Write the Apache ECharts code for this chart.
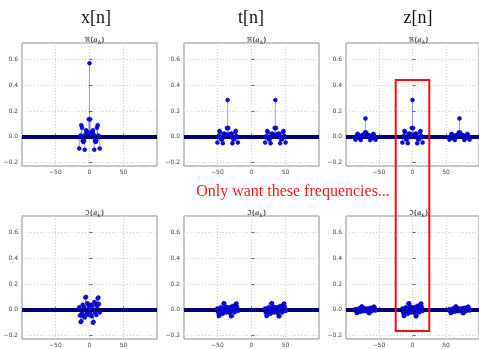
<!DOCTYPE html>
<html><head><meta charset="utf-8">
<script src="https://cdn.jsdelivr.net/npm/echarts@6/dist/echarts.min.js"></script>
<style>html,body{margin:0;padding:0;background:#fff}#c{width:479px;height:349px}</style>
</head><body><div id="c"></div><script>
// harmonic offsets within one cluster
const kOffsets = [-15,-14,-13,-12,-11,-10,-9,-8,-7,-6,-5,-4,-3,-2,-1,0,1,2,3,4,5,6,7,8,9,10,11,12,13,14,15];
// x[n] coefficients (cluster at k=0)
const xRe = [-0.09,0.0,0.01,0.09,0.07,-0.03,-0.04,-0.03,-0.1,0.02,0.05,0.04,0.02,0.03,0.135,0.57,0.135,0.03,0.02,0.04,0.05,0.02,-0.1,-0.03,-0.04,-0.03,0.07,0.09,0.01,0.0,-0.09];
const xIm = [0.02,-0.045,-0.095,-0.088,-0.03,0.04,-0.05,0.02,-0.06,0.095,0.1,-0.03,0.05,-0.04,0.03,0,-0.03,0.04,-0.05,0.03,-0.1,-0.095,0.06,-0.02,0.05,-0.04,0.03,0.088,0.095,0.045,-0.02];
// t[n] coefficients (clusters at k=-35 and k=35)
const tCenters = [-35, 35];
const tRe = [-0.045,0.0,0.005,0.045,0.035,-0.015,-0.02,-0.015,-0.05,0.01,0.025,0.02,0.01,0.015,0.068,0.285,0.068,0.015,0.01,0.02,0.025,0.01,-0.05,-0.015,-0.02,-0.015,0.035,0.045,0.005,0.0,-0.045];
const tIm = [0.01,-0.022,-0.048,-0.044,-0.015,0.02,-0.025,0.01,-0.03,0.048,0.05,-0.015,0.025,-0.02,0.015,0,-0.015,0.02,-0.025,0.015,-0.05,-0.048,0.03,-0.01,0.025,-0.02,0.015,0.044,0.048,0.022,-0.01];
// z[n] coefficients (centre cluster at 0, side clusters at -70 and 70)
const zSideCenters = [-70, 70];
const zReCenter = [-0.045,0.0,0.005,0.045,0.035,-0.015,-0.02,-0.015,-0.05,0.01,0.025,0.02,0.01,0.015,0.068,0.285,0.068,0.015,0.01,0.02,0.025,0.01,-0.05,-0.015,-0.02,-0.015,0.035,0.045,0.005,0.0,-0.045];
const zReSide = [-0.022,0.0,0.003,0.022,0.018,-0.008,-0.01,-0.008,-0.025,0.005,0.012,0.01,0.005,0.008,0.034,0.142,0.034,0.008,0.005,0.01,0.012,0.005,-0.025,-0.008,-0.01,-0.008,0.018,0.022,0.003,0.0,-0.022];
const zImCenter = [0.01,-0.022,-0.048,-0.044,-0.015,0.02,-0.025,0.01,-0.03,0.048,0.05,-0.015,0.025,-0.02,0.015,0,-0.015,0.02,-0.025,0.015,-0.05,-0.048,0.03,-0.01,0.025,-0.02,0.015,0.044,0.048,0.022,-0.01];
const zImSide = [0.005,-0.011,-0.024,-0.022,-0.008,0.01,-0.012,0.005,-0.015,0.024,0.025,-0.008,0.012,-0.01,0.008,0,-0.008,0.01,-0.012,0.008,-0.025,-0.024,0.015,-0.005,0.012,-0.01,0.008,0.022,0.024,0.011,-0.005];

const colTitles = ['x[n]', 't[n]', 'z[n]'];
const reTitle = '{f|ℜ}{p|(}{i|a}{s|k}{p|)}';
const imTitle = '{f|ℑ}{p|(}{i|a}{s|k}{p|)}';
const note = 'Only want these frequencies...';

function cluster(center, vals){ return kOffsets.map((o,i)=>[center+o, vals[i]]); }
const panels = [
  cluster(0, xRe),
  cluster(tCenters[0], tRe).concat(cluster(tCenters[1], tRe)),
  cluster(0, zReCenter).concat(cluster(zSideCenters[0], zReSide), cluster(zSideCenters[1], zReSide)),
  cluster(0, xIm),
  cluster(tCenters[0], tIm).concat(cluster(tCenters[1], tIm)),
  cluster(0, zImCenter).concat(cluster(zSideCenters[0], zImSide), cluster(zSideCenters[1], zImSide))
];

const lefts = [22, 184, 346], tops = [43, 216], W = 135, H = 123;
const grids=[], xAxes=[], yAxes=[], series=[], titles=[];
const minus = v => String(v).replace('-', '\u2212');
panels.forEach((data, i) => {
  const r = Math.floor(i/3), c = i%3;
  grids.push({left: lefts[c], top: tops[r], width: W, height: H, show: true, borderColor: '#8a8a8a', borderWidth: 1, backgroundColor: 'transparent', containLabel: false});
  xAxes.push({type: 'value', gridIndex: i, min: -99, max: 99, splitNumber: 4,
    axisLine: {show: false}, axisTick: {show: true, inside: true, length: 3, lineStyle: {color: '#666'}},
    axisLabel: {showMinLabel: false, showMaxLabel: false, fontSize: 6, color: '#444', margin: 3, fontFamily: 'DejaVu Sans', formatter: minus},
    splitLine: {show: true, lineStyle: {color: '#cfcfcf', type: [1, 2], width: 1}}});
  yAxes.push({type: 'value', gridIndex: i, min: -0.226, max: 0.726, splitNumber: 5,
    axisLine: {show: false}, axisTick: {show: true, inside: true, length: 3, lineStyle: {color: '#666'}},
    axisLabel: {showMinLabel: false, showMaxLabel: false, fontSize: 6, color: '#444', margin: 4, fontFamily: 'DejaVu Sans', formatter: v => minus(v.toFixed(1))},
    splitLine: {show: true, lineStyle: {color: '#cfcfcf', type: [1, 2], width: 1}}});
  series.push({type: 'custom', xAxisIndex: i, yAxisIndex: i, data: data, z: 2, silent: true, clip: true,
    renderItem: function(params, api){
      const p0 = api.coord([api.value(0), 0]);
      const p1 = api.coord([api.value(0), api.value(1)]);
      return {type: 'line', shape: {x1: p0[0], y1: p0[1], x2: p1[0], y2: p1[1]}, style: {stroke: 'rgba(60,60,255,0.5)', lineWidth: 1}};
    },
    markLine: {silent: true, symbol: 'none', label: {show: false}, animation: false,
      data: [{yAxis: 0}], lineStyle: {color: '#00006e', width: 4, type: 'solid'}}
  });
  series.push({type: 'scatter', xAxisIndex: i, yAxisIndex: i, data: data, z: 5, symbolSize: 4, silent: true,
    itemStyle: {color: '#0b0bf0', borderColor: '#00008a', borderWidth: 0.5, opacity: 1}});
  titles.push({text: r === 0 ? reTitle : imTitle, left: lefts[c] + W/2, top: tops[r] - 12, textAlign: 'center',
    textStyle: {rich: {
      f: {fontSize: 7, color: '#555', fontFamily: 'DejaVu Sans'},
      p: {fontSize: 7, color: '#555', fontFamily: 'DejaVu Sans'},
      i: {fontSize: 7, color: '#555', fontFamily: 'DejaVu Serif', fontStyle: 'italic'},
      s: {fontSize: 5, color: '#555', fontFamily: 'DejaVu Serif', fontStyle: 'italic', verticalAlign: 'bottom', padding: [4, 0, 0, 0]}
    }}});
});
const colCenters = [91, 246, 413];
colTitles.forEach((t, c) => titles.push({text: t, left: colCenters[c], top: 4, textAlign: 'center',
  textStyle: {fontSize: 18, fontWeight: 'normal', color: '#111', fontFamily: 'Liberation Serif'}}));
titles.push({text: note, left: 288, top: 179, textAlign: 'center',
  textStyle: {fontSize: 16, fontWeight: 'normal', color: '#ff1a1a', fontFamily: 'Liberation Serif'}});

const chart = echarts.init(document.getElementById('c'), null, {renderer: 'canvas'});
chart.setOption({animation: false, backgroundColor: '#fff', title: titles, grid: grids, xAxis: xAxes, yAxis: yAxes, series: series});
// highlight box around the wanted band (k from -25 to 25) in the z[n] column
const bx0 = chart.convertToPixel({xAxisIndex: 2}, -25);
const bx1 = chart.convertToPixel({xAxisIndex: 2}, 25);
chart.setOption({graphic: [{type: 'rect', shape: {x: bx0, y: 80, width: bx1 - bx0, height: 251}, style: {fill: 'none', stroke: '#ee1111', lineWidth: 2}, z: 100}]});
</script></body></html>
